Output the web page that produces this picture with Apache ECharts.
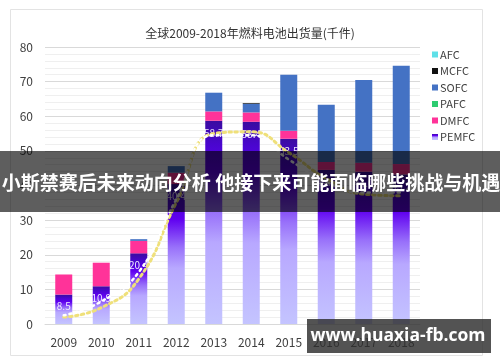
<!DOCTYPE html>
<html><head><meta charset="utf-8">
<script src="https://cdn.jsdelivr.net/npm/echarts@6/dist/echarts.min.js"></script>
<style>html,body{margin:0;padding:0;background:#fff}#c{width:500px;height:362px}</style>
</head><body><div id="c"></div>
<script>
var categories = ['2009','2010','2011','2012','2013','2014','2015','2016','2017','2018'];
var pemfc = [8.5, 10.9, 20.4, 40.4, 58.7, 58.4, 53.5, 44.5, 44.0, 43.2];
var dmfc  = [5.8, 6.8, 3.6, 3.3, 2.7, 2.7, 2.3, 2.3, 2.6, 3.0];
var pafc  = [0, 0, 0, 0, 0, 0, 0, 0, 0, 0];
var sofc  = [0, 0, 0.5, 1.9, 5.4, 2.5, 16.2, 16.5, 23.9, 28.4];
var mcfc  = [0, 0, 0, 0, 0, 0.2, 0, 0, 0, 0];
var afc   = [0, 0, 0, 0, 0, 0, 0, 0, 0, 0];
var trendYellow = [2.0, 4.7, 13.0, 35.0, 55.0, 55.5, 49.5, 42.0, 37.5, 37.0];
var trendWhite  = [2.5, 6.5, 15.0, 36.0, 54.5, 54.5, 47.5, 41.0, 38.0, 38.0];
var yTicks = [0, 10, 20, 30, 40, 50, 60, 70, 80];
var titleText = '全球2009-2018年燃料电池出货量(千件)';
var bannerText = '小斯禁赛后未来动向分析 他接下来可能面临哪些挑战与机遇';
var watermarkText = 'www.huaxia-fb.com';

var chart = echarts.init(document.getElementById('c'));
var pemGrad = new echarts.graphic.LinearGradient(0, 0, 0, 1, [
  {offset: 0, color: '#3a0ca0'},
  {offset: 0.12, color: '#4a06d0'},
  {offset: 0.25, color: '#6000f0'},
  {offset: 0.45, color: '#9870fa'},
  {offset: 0.6, color: '#b8a8ff'},
  {offset: 1, color: '#c4c4ff'}
]);
function bar(name, data, color, extra) {
  var s = {name: name, type: 'bar', stack: 'total', data: data, barWidth: 17,
    itemStyle: {color: color}, z: 2};
  if (extra) for (var k in extra) s[k] = extra[k];
  return s;
}
var option = {
  animation: false,
  backgroundColor: '#fff',
  textStyle: {fontFamily: '"Noto Sans CJK SC", "Noto Sans", sans-serif'},
  title: {text: titleText, left: 'center', top: 22,
    textStyle: {fontSize: 12, fontWeight: 'normal', color: '#333'}},
  legend: {orient: 'vertical', left: 427, top: 44, itemWidth: 6, itemHeight: 6, itemGap: 5.5,
    icon: 'rect', textStyle: {fontSize: 11, color: '#404040', padding: [0,0,0,-3]},
    data: ['AFC','MCFC','SOFC','PAFC','DMFC','PEMFC']},
  grid: {left: 45, right: 80, top: 47, bottom: 38},
  xAxis: {type: 'category', data: categories,
    axisLine: {lineStyle: {color: '#d9d9d9'}}, axisTick: {show: false},
    axisLabel: {fontSize: 12, color: '#404040', margin: 12}},
  yAxis: {type: 'value', min: yTicks[0], max: yTicks[yTicks.length-1], interval: 10,
    axisLine: {show: false}, axisTick: {show: false},
    axisLabel: {fontSize: 12, color: '#404040', margin: 12},
    splitLine: {lineStyle: {color: '#d9d9d9'}},
    minorTick: {show: false, splitNumber: 5},
    minorSplitLine: {show: true, lineStyle: {color: '#efefef'}}},
  series: [
    bar('PEMFC', pemfc, pemGrad, {label: {show: true, position: 'insideTop', distance: 7,
      color: '#eee8ff', fontSize: 10, formatter: function(p){return p.value.toFixed(1);}}}),
    bar('DMFC', dmfc, '#ff3399'),
    bar('PAFC', pafc, '#2ecc71'),
    bar('SOFC', sofc, '#4472c4'),
    bar('MCFC', mcfc, '#111111'),
    bar('AFC', afc, '#5fe0e8'),
    {name: 'trendW', type: 'line', data: trendWhite, smooth: true, symbol: 'none', z: 5,
      lineStyle: {color: '#ffffff', width: 2.5, type: [2, 4], cap: 'round'}},
    {name: 'trendY', type: 'line', data: trendYellow, smooth: true, symbol: 'none', z: 4,
      lineStyle: {color: '#efe07a', width: 3, type: [2.5, 3.5], cap: 'round'}}
  ],
  graphic: [
    {type: 'rect', shape: {x: 10.5, y: 9.5, width: 472, height: 346}, z: -10, silent: true,
      style: {fill: 'none', stroke: '#e3e3e3', lineWidth: 1}},
    {type: 'rect', shape: {x: 0, y: 151, width: 500, height: 61}, z: 100,
      style: {fill: 'rgba(0,0,0,0.63)'}},
    {type: 'text', x: 251, y: 183, z: 101,
      style: {text: bannerText, fill: '#fff', font: 'bold 19px "Noto Sans CJK SC"',
        textAlign: 'center', textVerticalAlign: 'middle'}},
    {type: 'rect', shape: {x: 307, y: 319, width: 184, height: 34}, z: 100,
      style: {fill: 'rgba(45,45,45,0.82)'}},
    {type: 'text', x: 398, y: 336, z: 101,
      style: {text: watermarkText, fill: '#fff', font: 'bold 17.5px "Open Sans", "Noto Sans", sans-serif',
        textAlign: 'center', textVerticalAlign: 'middle'}}
  ]
};
chart.setOption(option);
</script></body></html>
